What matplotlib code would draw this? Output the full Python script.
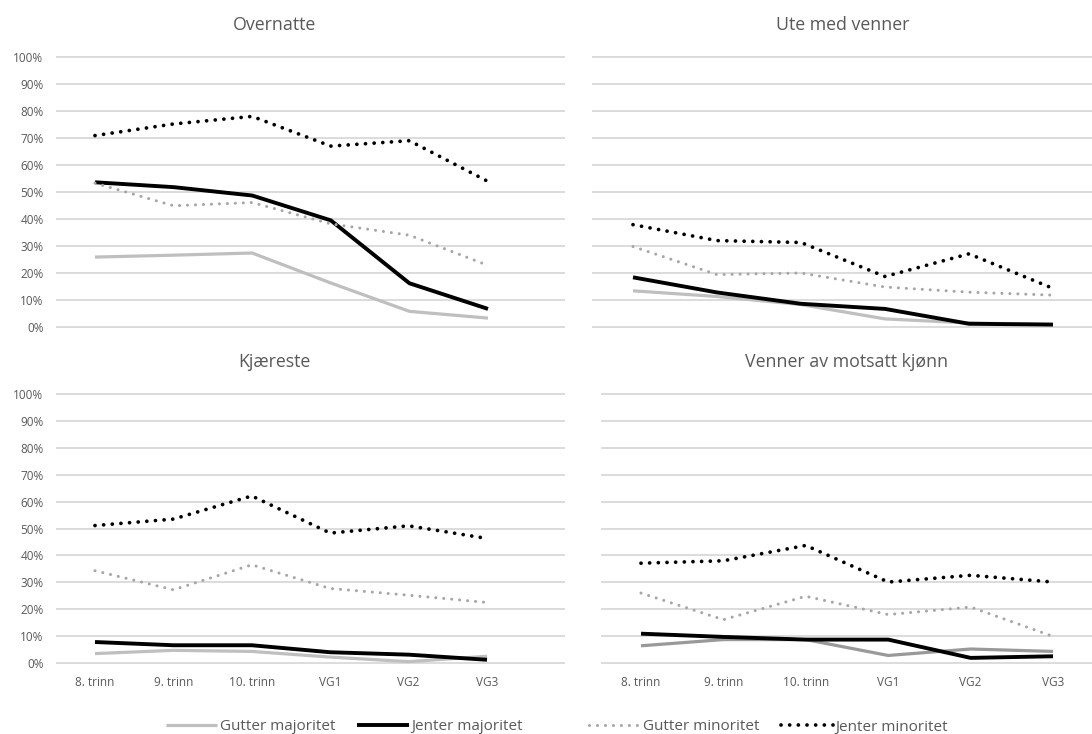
import matplotlib
matplotlib.use("Agg")
import matplotlib.pyplot as plt
from matplotlib.lines import Line2D
from matplotlib.ticker import PercentFormatter

plt.rcParams["font.family"] = ["Open Sans", "DejaVu Sans"]

GRADES = ["8. trinn", "9. trinn", "10. trinn", "VG1", "VG2", "VG3"]
SERIES = ["Gutter majoritet", "Jenter majoritet", "Gutter minoritet", "Jenter minoritet"]

# share (0..1) per grade
overnatte = {
    "Gutter majoritet": [0.259, 0.266, 0.274, 0.163, 0.058, 0.033],
    "Jenter majoritet": [0.536, 0.518, 0.487, 0.395, 0.162, 0.067],
    "Gutter minoritet": [0.533, 0.449, 0.461, 0.382, 0.340, 0.228],
    "Jenter minoritet": [0.709, 0.752, 0.780, 0.670, 0.690, 0.539],
}
ute_med_venner = {
    "Gutter majoritet": [0.134, 0.113, 0.083, 0.030, 0.015, 0.009],
    "Jenter majoritet": [0.184, 0.128, 0.086, 0.067, 0.012, 0.009],
    "Gutter minoritet": [0.298, 0.194, 0.200, 0.148, 0.129, 0.118],
    "Jenter minoritet": [0.379, 0.320, 0.313, 0.187, 0.271, 0.143],
}
kjaereste = {
    "Gutter majoritet": [0.035, 0.047, 0.043, 0.022, 0.005, 0.025],
    "Jenter majoritet": [0.078, 0.066, 0.066, 0.040, 0.031, 0.012],
    "Gutter minoritet": [0.343, 0.272, 0.365, 0.277, 0.252, 0.225],
    "Jenter minoritet": [0.511, 0.535, 0.621, 0.483, 0.510, 0.463],
}
venner_motsatt = {
    "Gutter majoritet": [0.064, 0.087, 0.087, 0.028, 0.052, 0.043],
    "Jenter majoritet": [0.109, 0.097, 0.087, 0.087, 0.019, 0.025],
    "Gutter minoritet": [0.260, 0.161, 0.248, 0.180, 0.208, 0.099],
    "Jenter minoritet": [0.371, 0.380, 0.437, 0.301, 0.326, 0.301],
}

W, H = 1092, 734
TEXT = "#595959"
GRID = "#d9d9d9"


def style_for(name, dark_grey=False):
    if name == "Gutter majoritet":
        return dict(color="#999999" if dark_grey else "#bfbfbf", lw=2.3,
                    solid_capstyle="butt")
    if name == "Jenter majoritet":
        return dict(color="black", lw=2.8, solid_capstyle="butt")
    if name == "Gutter minoritet":
        return dict(color="#a6a6a6", lw=2.2, linestyle=(0, (0.01, 2.6)),
                    dash_capstyle="round")
    return dict(color="black", lw=2.7, linestyle=(0, (0.01, 2.3)),
                dash_capstyle="round")


def add_panel(fig, data, title, box, cats, title_xy, show_y, show_x, dark_grey=False):
    # box: (left px, right px, y of 100% px, y of 0% px); cats: px of first/last category
    left, right, top, bottom = box
    c0, c5 = cats
    pad = 12
    ax = fig.add_axes([left / W, (H - bottom - pad) / H,
                       (right - left) / W, (bottom - top + 2 * pad) / H])
    unit = (c5 - c0) / 5
    ax.set_xlim(-(c0 - left) / unit, 5 + (right - c5) / unit)
    span = bottom - top
    ax.set_ylim(-pad / span, 1 + pad / span)

    x = list(range(len(GRADES)))
    for name in SERIES:
        ax.plot(x, data[name], **style_for(name, dark_grey), zorder=3)

    ax.set_yticks([i / 10 for i in range(11)])
    ax.yaxis.set_major_formatter(PercentFormatter(1.0, decimals=0))
    ax.grid(True, axis="y", color=GRID, lw=1.3, zorder=0)
    ax.set_xticks(x)
    ax.set_xticklabels(GRADES)
    ax.tick_params(axis="both", length=0, labelsize=8.5, labelcolor=TEXT)
    ax.tick_params(axis="y", pad=9)
    ax.tick_params(axis="x", pad=0.8)
    if not show_y:
        ax.tick_params(axis="y", labelleft=False)
    if not show_x:
        ax.tick_params(axis="x", labelbottom=False)
    for s in ax.spines.values():
        s.set_visible(False)
    fig.text(title_xy[0] / W, 1 - title_xy[1] / H, title, ha="center", va="center",
             fontsize=12.8, color=TEXT)
    return ax


fig = plt.figure(figsize=(W / 100, H / 100), dpi=100)

add_panel(fig, overnatte, "Overnatte", (56, 565, 57, 327), (95, 488),
          (275, 25), True, False)
add_panel(fig, ute_med_venner, "Ute med venner", (592, 1092, 57, 327), (633, 1053),
          (843, 25), False, False)
add_panel(fig, kjaereste, "Kjæreste", (56, 565, 394, 663), (95, 487),
          (274, 362), True, True)
add_panel(fig, venner_motsatt, "Venner av motsatt kjønn", (601, 1092, 394, 663),
          (641, 1053), (847, 362), False, True, dark_grey=True)

# the legend is split in two halves, as in the reference
legend_kw = dict(loc="center", ncol=2, frameon=False, fontsize=11, handlelength=3.4,
                 handletextpad=0.15, columnspacing=1.4, labelcolor=TEXT,
                 borderaxespad=0, borderpad=0)
handles = [Line2D([], [], **style_for(n)) for n in SERIES]
fig.legend(handles[:2], SERIES[:2], bbox_to_anchor=(344 / W, 1 - 727 / H), **legend_kw)
fig.legend(handles[2:], SERIES[2:], bbox_to_anchor=(768 / W, 1 - 727 / H), **legend_kw)

fig.savefig("out.png", dpi=100)
